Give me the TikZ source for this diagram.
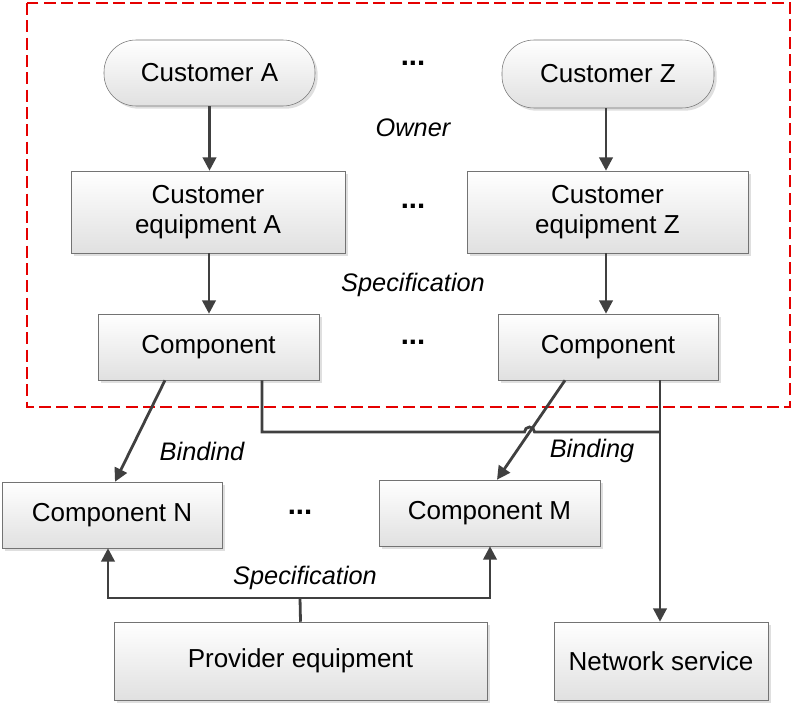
\documentclass[tikz,border=0pt]{standalone}
\usepackage{fontspec}
\setmainfont{Liberation Sans}
\usetikzlibrary{arrows.meta,shadows}
\begin{document}
\begin{tikzpicture}[x=0.75pt,y=-0.75pt,
  box/.style={draw=black!55,top color=white,bottom color=black!12,drop shadow={opacity=0.25,shadow xshift=2pt,shadow yshift=-2pt},align=center,font=\fontsize{19.5}{23}\selectfont,inner sep=0pt},
  pill/.style={box,rounded corners=24pt},
  lab/.style={font=\fontsize{19}{22}\selectfont\itshape},
  dots/.style={font=\fontsize{22}{22}\selectfont\bfseries},
  arr/.style={draw=black!75,line width=2.1pt,-{Triangle[length=10pt,width=10pt]}},
  ln/.style={draw=black!75,line width=2.1pt}]
\useasboundingbox (0,0) rectangle (798,707);
\draw[red!90!black,line width=2pt,dash pattern=on 9pt off 4pt] (27,3) rectangle (790,407);
\node[pill,minimum width=211*0.75pt,minimum height=66*0.75pt] (ca) at (209.5,73) {Customer A};
\node[pill,minimum width=212*0.75pt,minimum height=68*0.75pt] (cz) at (608,74) {Customer Z};
\node[dots] (d1) at (413,63) {...};
\node[lab] (own) at (413,128) {Owner};
\node[box,minimum width=274*0.75pt,minimum height=82*0.75pt] (ea) at (208,212) {Customer\\equipment A};
\node[box,minimum width=281*0.75pt,minimum height=82*0.75pt] (ez) at (607.5,212) {Customer\\equipment Z};
\node[dots] (d2) at (413,206) {...};
\node[lab] (spec1) at (413,285) {Specification};
\node[box,minimum width=221*0.75pt,minimum height=66*0.75pt] (pa) at (208.5,347) {Component};
\node[box,minimum width=220*0.75pt,minimum height=66*0.75pt] (pz) at (608,347) {Component};
\node[dots] (d3) at (413,342) {...};
\node[box,minimum width=220*0.75pt,minimum height=66*0.75pt] (cn) at (112,515) {Component N};
\node[box,minimum width=221*0.75pt,minimum height=66*0.75pt] (cm) at (489.5,513) {Component M};
\node[dots] (d4) at (300,512) {...};
\node[box,minimum width=373*0.75pt,minimum height=78*0.75pt] (pe) at (300.5,661) {Provider equipment};
\node[box,minimum width=214*0.75pt,minimum height=78*0.75pt] (ns) at (661,661) {Network service};
\node[lab] (b1) at (202,451) {Bindind};
\node[lab] (b2) at (592,451) {Binding};
\node[lab] (spec2) at (305,578) {Specification};
\draw[arr] (ca.south) -- (ea.north -| ca.south);
\draw[arr] (cz.south -| 606,0) -- (ez.north -| 606,0);
\draw[arr] (ea.south -| 209,0) -- (pa.north -| 209,0);
\draw[arr] (ez.south -| 606,0) -- (pz.north -| 606,0);
\draw[arr] (pa.south -| 165,0) -- (cn.north -| 115,0);
\draw[arr] (pz.south -| 565,0) -- (cm.north -| 497,0);
\draw[ln] (pa.south -| 262,0) -- (262,432) -- (524.5,432) arc[start angle=180,end angle=0,radius=5*0.75pt] -- (660,432);
\draw[arr] (pz.south -| 660,0) -- (ns.north -| 660,0);
\coordinate (pj) at (300,598);
\draw[ln] (pe.north) -- (pj);
\draw[arr] (pj) -- (108,598) -- (cn.south -| 108,0);
\draw[arr] (pj) -- (490,598) -- (cm.south -| 490,0);
\end{tikzpicture}
\end{document}
